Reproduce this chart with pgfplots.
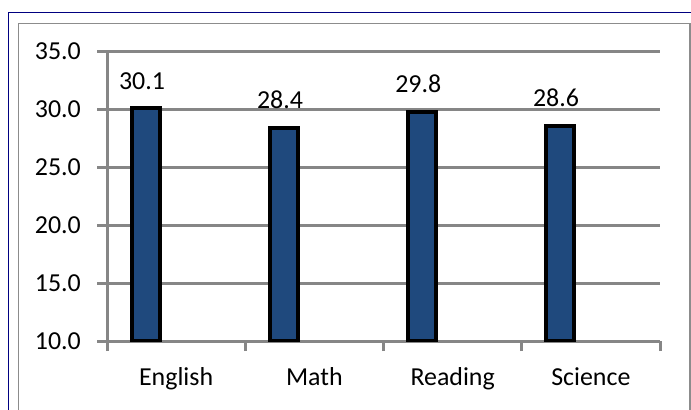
\documentclass[border=0pt]{standalone}
\usepackage{pgfplots}
\pgfplotsset{compat=1.18}
\usepackage{fontspec}
\setmainfont{Carlito}
\definecolor{barblue}{RGB}{31,73,125}
\definecolor{gridgray}{RGB}{134,134,134}
\definecolor{framegray}{RGB}{140,140,140}
\definecolor{navyframe}{RGB}{0,0,128}
\begin{document}
\begin{tikzpicture}[x=1bp,y=1bp]
\useasboundingbox (0,0) rectangle (691,-409);
\clip (0,0) rectangle (691,-409);
\fill[white] (0,0) rectangle (691,-409);
\draw[navyframe, line width=1.5bp] (8.3,-12.3) rectangle (720,-440);
\draw[framegray, line width=1.5bp] (18.7,-23.7) rectangle (690,-440);
\begin{axis}[
  at={(107bp,-341bp)}, anchor=south west,
  scale only axis, width=553bp, height=289.5bp,
  xmin=0, xmax=4, ymin=10, ymax=35,
  axis x line*=bottom, axis y line*=left,
  axis line style={-, gridgray, line width=3bp},
  tick pos=left, tick align=outside,
  ytick={10,15,20,25,30,35},
  ymajorgrids, major grid style={gridgray, line width=3bp},
  xtick={0.5,1.5,2.5,3.5},
  xticklabels={English,Math,Reading,Science},
  major x tick style={draw=none},
  minor xtick={0,1,2,3,4},
  minor tick length=10bp, major tick length=10bp,
  major y tick style={gridgray, line width=3bp},
  minor x tick style={gridgray, line width=3bp},
  ticklabel style={font=\fontsize{26}{30}\selectfont},
  /pgf/number format/.cd, fixed, fixed zerofill, precision=1, assume math mode=true,
  /pgfplots/.cd,
  yticklabel style={anchor=east, inner sep=0pt, xshift=-16bp},
  xticklabel style={anchor=base, inner sep=0pt, yshift=-34bp},
  ybar, bar width=28bp, bar shift=0pt,
  nodes near coords,
  every node near coord/.append style={font=\fontsize{26}{30}\selectfont, anchor=base, inner sep=0pt, yshift=19bp, xshift=-4bp, black},
  clip=true,
]
\addplot[fill=barblue, draw=black, line width=4bp] coordinates {(0.282,30.1) (1.28,28.4) (2.28,29.8) (3.277,28.6)};
\end{axis}
\end{tikzpicture}
\end{document}
